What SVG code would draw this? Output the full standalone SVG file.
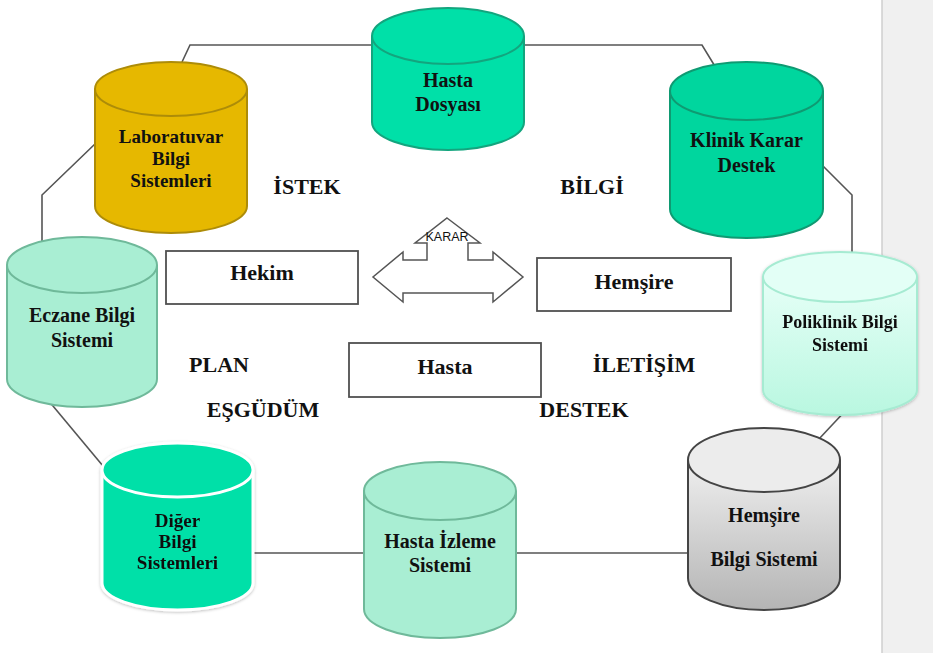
<svg xmlns="http://www.w3.org/2000/svg" width="933" height="653" viewBox="0 0 933 653">
  <defs>
    <linearGradient id="gPoli" x1="0" y1="0" x2="0" y2="1">
      <stop offset="0" stop-color="#e6fff7"/>
      <stop offset="1" stop-color="#b9f7e0"/>
    </linearGradient>
    <linearGradient id="gGray" x1="0" y1="0" x2="0" y2="1">
      <stop offset="0" stop-color="#efefef"/>
      <stop offset="1" stop-color="#b4b4b4"/>
    </linearGradient>
    <filter id="soft" x="-10%" y="-10%" width="120%" height="120%">
      <feDropShadow dx="0" dy="1" stdDeviation="1.5" flood-color="#000" flood-opacity="0.25"/>
    </filter>
  </defs>
  <style>
    .cyl { stroke-width: 2; }
    .t { font-family: "Liberation Serif", "Times New Roman", serif; font-weight: bold; fill: #111; text-anchor: middle; }
    .c20 { font-size: 20px; }
    .c19 { font-size: 19px; }
    .c18 { font-size: 18px; }
    .lbl { font-size: 22px; }
    .box { fill: #fff; stroke: #505050; stroke-width: 1.8; }
    .link { fill: none; stroke: #555; stroke-width: 1.6; }
  </style>

  <rect x="0" y="0" width="933" height="653" fill="#fff"/>
  <!-- side panel -->
  <rect x="882" y="0" width="51" height="653" fill="#f0f0f0"/>
  <line x1="882" y1="0" x2="882" y2="653" stroke="#cfcfcf" stroke-width="1.5"/>

  <!-- ring of links between the systems -->
  <g id="connectors">
    <polyline class="link" points="182,62 190,45 702,45 716,68"/>
    <polyline class="link" points="96,143 42,195 42,242"/>
    <polyline class="link" points="822,165 852,195 852,256"/>
    <polyline class="link" points="848,408 818,440"/>
    <polyline class="link" points="48,400 103,466"/>
    <polyline class="link" points="250,553 690,553"/>
  </g>

  <!-- Hasta Dosyası -->
  <g id="hasta-dosyasi">
    <path class="cyl" fill="#00e0a8" stroke="#13a57e" d="M372,36 L372,122 A76,28 0 0 0 524,122 L524,36"/>
    <ellipse class="cyl" cx="448" cy="36" rx="76" ry="28" fill="#00e0a8" stroke="#13a57e"/>
    <text class="t c20" x="448" y="87">Hasta</text>
    <text class="t c20" x="448" y="111">Dosyası</text>
  </g>

  <!-- Laboratuvar Bilgi Sistemleri -->
  <g id="laboratuvar">
    <path class="cyl" fill="#e6b800" stroke="#ad8c08" d="M95,89 L95,206 A76,27 0 0 0 247,206 L247,89"/>
    <ellipse class="cyl" cx="171" cy="89" rx="76" ry="27" fill="#e6b800" stroke="#ad8c08"/>
    <text class="t c19" x="171" y="143">Laboratuvar</text>
    <text class="t c19" x="171" y="165">Bilgi</text>
    <text class="t c19" x="171" y="187">Sistemleri</text>
  </g>

  <!-- Klinik Karar Destek -->
  <g id="klinik-karar">
    <path class="cyl" fill="#00d69e" stroke="#0f9a72" d="M670,91 L670,209 A76.5,29 0 0 0 823,209 L823,91"/>
    <ellipse class="cyl" cx="746.5" cy="91" rx="76.5" ry="29" fill="#00d69e" stroke="#0f9a72"/>
    <text class="t c20" x="746.5" y="147">Klinik Karar</text>
    <text class="t c20" x="746.5" y="172">Destek</text>
  </g>

  <!-- Eczane Bilgi Sistemi -->
  <g id="eczane">
    <path class="cyl" fill="#a9eed3" stroke="#6fb99a" d="M7,265 L7,379 A75,28 0 0 0 157,379 L157,265"/>
    <ellipse class="cyl" cx="82" cy="265" rx="75" ry="28" fill="#a9eed3" stroke="#6fb99a"/>
    <text class="t c20" x="82" y="322">Eczane Bilgi</text>
    <text class="t c20" x="82" y="347">Sistemi</text>
  </g>

  <!-- Poliklinik Bilgi Sistemi -->
  <g id="poliklinik" filter="url(#soft)">
    <path class="cyl" fill="url(#gPoli)" stroke="#a6ebd2" d="M763,277 L763,390 A77,25 0 0 0 917,390 L917,277"/>
    <ellipse class="cyl" cx="840" cy="277" rx="77" ry="25" fill="#e3fff6" stroke="#a6ebd2"/>
    <text class="t c18" x="840" y="328">Poliklinik Bilgi</text>
    <text class="t c18" x="840" y="351">Sistemi</text>
  </g>

  <!-- Hemşire Bilgi Sistemi -->
  <g id="hemsire-bilgi">
    <path class="cyl" fill="url(#gGray)" stroke="#444" d="M688,460 L688,578 A76,32 0 0 0 840,578 L840,460"/>
    <ellipse class="cyl" cx="764" cy="460" rx="76" ry="32" fill="#ececec" stroke="#444"/>
    <text class="t c20" x="764" y="522">Hemşire</text>
    <text class="t c20" x="764" y="566">Bilgi Sistemi</text>
  </g>

  <!-- Diğer Bilgi Sistemleri -->
  <g id="diger" filter="url(#soft)">
    <path fill="#00e0a8" stroke="#fff" stroke-width="3" d="M102,470 L102,583 A75.5,27 0 0 0 253,583 L253,470"/>
    <ellipse cx="177.5" cy="470" rx="75.5" ry="27" fill="#00e0a8" stroke="#fff" stroke-width="3"/>
    <text class="t c19" x="177.5" y="527">Diğer</text>
    <text class="t c19" x="177.5" y="548">Bilgi</text>
    <text class="t c19" x="177.5" y="569">Sistemleri</text>
  </g>

  <!-- Hasta İzleme Sistemi -->
  <g id="hasta-izleme">
    <path class="cyl" fill="#a9eed3" stroke="#6fb99a" d="M364,491 L364,609 A76,29 0 0 0 516,609 L516,491"/>
    <ellipse class="cyl" cx="440" cy="491" rx="76" ry="29" fill="#a9eed3" stroke="#6fb99a"/>
    <text class="t c20" x="440" y="548">Hasta İzleme</text>
    <text class="t c20" x="440" y="572">Sistemi</text>
  </g>

  <!-- actors -->
  <g id="hekim">
    <rect class="box" x="166" y="251" width="192" height="53"/>
    <text class="t lbl" x="262" y="280">Hekim</text>
  </g>
  <g id="hemsire">
    <rect class="box" x="537" y="258" width="194" height="53"/>
    <text class="t lbl" x="634" y="289">Hemşire</text>
  </g>
  <g id="hasta">
    <rect class="box" x="349" y="343" width="192" height="54"/>
    <text class="t lbl" x="445" y="374">Hasta</text>
  </g>

  <!-- decision arrow -->
  <g id="karar">
    <path fill="#fff" stroke="#555" stroke-width="1.5" stroke-linejoin="miter" d="M447,218 L480,243 L468,243 L468,260 L493,260 L493,252 L523,277 L493,302 L493,293 L403,293 L403,302 L373,277 L403,252 L403,260 L427,260 L427,243 L415,243 Z"/>
    <text x="447" y="241" font-family="Liberation Sans, Arial, sans-serif" font-size="12.5" fill="#111" text-anchor="middle">KARAR</text>
  </g>

  <!-- flow labels -->
  <g id="labels">
    <text class="t lbl" x="307" y="194">İSTEK</text>
    <text class="t lbl" x="592" y="194">BİLGİ</text>
    <text class="t lbl" x="219" y="372">PLAN</text>
    <text class="t lbl" x="644" y="372">İLETİŞİM</text>
    <text class="t lbl" x="263" y="417">EŞGÜDÜM</text>
    <text class="t lbl" x="584" y="417">DESTEK</text>
  </g>
</svg>
